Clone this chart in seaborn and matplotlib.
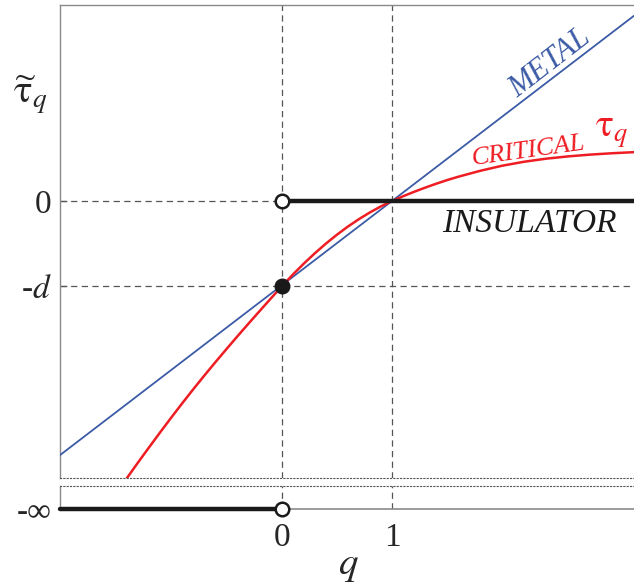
import matplotlib
matplotlib.use("Agg")
import matplotlib.pyplot as plt
import seaborn as sns

# critical curve tau_q read as (q, tau) pairs
crit_q = [-1.45, -1.3, -1.2, -1.1, -1.0, -0.9, -0.8, -0.7, -0.6, -0.5, -0.4, -0.3,
          -0.2, -0.1, 0.0, 0.1, 0.2, 0.3, 0.4, 0.5, 0.6, 0.7, 0.8, 0.9, 1.0,
          1.1, 1.2, 1.3, 1.4, 1.5, 1.6, 1.8, 2.0, 2.2, 2.4, 2.6, 2.8, 3.0, 3.2]
crit_tau = [-3.33, -3.058, -2.881, -2.706, -2.534, -2.366, -2.202, -2.042, -1.886,
            -1.733, -1.582, -1.434, -1.288, -1.143, -1.0, -0.862, -0.733, -0.612,
            -0.499, -0.395, -0.299, -0.212, -0.133, -0.062, 0.0,
            0.056, 0.108, 0.157, 0.203, 0.246, 0.285, 0.355, 0.415, 0.462, 0.498,
            0.525, 0.546, 0.562, 0.575]

# metallic phase: straight line through (0,-d) and (1,0)
metal_q = [-2.02, 3.2]
metal_tau = [-2.99, 2.18]

# insulating phase: tau = 0 for q > 0, -inf for q < 0
ins_q = [0.0, 3.2]
ins_tau = [0.0, 0.0]
ins_inf_q = [-2.02, 0.0]

x_ticks = [0, 1]
x_labels = ["0", "1"]
d = 1.0
y_ticks = [0, -d]
y_labels = ["0", r"-$d$"]

RED = "#ee1d23"
BLUE = "#3c5ba6"
GRAY = "#8a8a8a"

sns.set_style("white")
plt.rcParams["font.family"] = ["Liberation Serif", "DejaVu Serif"]
plt.rcParams["mathtext.fontset"] = "stix"

fig = plt.figure(figsize=(6.34, 5.85), dpi=100)
ax = fig.add_axes([0.0946, 0.1829, 0.9054, 0.8085])
axb = fig.add_axes([0.0946, 0.1299, 0.9054, 0.0393])

XL = (-2.02, 3.2)
ax.set_xlim(*XL)
ax.set_ylim(-3.259, 2.306)
axb.set_xlim(*XL)
axb.set_ylim(0, 1)

# reference grid lines
dash = (0, (5, 3.5))
for a in (ax, axb):
    for xv in x_ticks:
        a.axvline(xv, color="#555555", lw=0.9, ls=dash, zorder=1)
for yv in y_ticks:
    ax.axhline(yv, color="#555555", lw=0.9, ls=dash, zorder=1)

sns.lineplot(x=metal_q, y=metal_tau, ax=ax, color=BLUE, lw=1.3,
             sort=False, estimator=None, zorder=3)
sns.lineplot(x=crit_q, y=crit_tau, ax=ax, color=RED, lw=1.8,
             sort=False, estimator=None, zorder=4)
sns.lineplot(x=ins_q, y=ins_tau, ax=ax, color="#1a1a1a", lw=3.2,
             sort=False, estimator=None, zorder=5)
sns.lineplot(x=ins_inf_q, y=[0, 0], ax=axb, color="#1a1a1a", lw=3.2,
             sort=False, estimator=None, zorder=5, clip_on=False)

sns.scatterplot(x=[0], y=[0], ax=ax, s=95, color="white", edgecolor="#1a1a1a",
                linewidth=1.8, zorder=6)
sns.scatterplot(x=[0], y=[-d], ax=ax, s=110, color="#1a1a1a", edgecolor="#1a1a1a",
                linewidth=1.0, zorder=6)
sns.scatterplot(x=[0], y=[0], ax=axb, s=95, color="white", edgecolor="#1a1a1a",
                linewidth=1.8, zorder=6, clip_on=False)

# spines
for a in (ax, axb):
    a.spines["right"].set_visible(False)
    a.spines["left"].set_color(GRAY)
    a.spines["left"].set_linewidth(1.0)
ax.spines["top"].set_color(GRAY)
ax.spines["top"].set_linewidth(1.0)
ax.spines["bottom"].set_color("#555555")
ax.spines["bottom"].set_linestyle((0, (1, 2)))
ax.spines["bottom"].set_linewidth(0.8)
axb.spines["top"].set_color("#555555")
axb.spines["top"].set_linestyle((0, (1, 2)))
axb.spines["top"].set_linewidth(0.8)
axb.spines["bottom"].set_color(GRAY)
axb.spines["bottom"].set_linewidth(1.2)

# ticks
ax.set_xticks([])
ax.set_yticks(y_ticks)
ax.set_yticklabels(y_labels)
ax.tick_params(axis="y", direction="in", length=5, color=GRAY, width=1.0,
               labelsize=24, pad=6, left=True)
axb.set_yticks([0])
axb.set_yticklabels(["-∞"])
axb.tick_params(axis="y", length=0, labelsize=24, pad=6, left=True)
axb.set_xticks(x_ticks)
axb.set_xticklabels(x_labels)
axb.tick_params(axis="x", length=0, labelsize=24, pad=10, bottom=True)
ax.set_xlabel("")
ax.set_ylabel("")
axb.set_xlabel("")
axb.set_ylabel("")

# axis titles
fig.text(348 / 634, 1 - 565 / 585, r"$q$", fontsize=28, ha="center", va="center")
fig.text(30 / 634, 1 - 95 / 585, r"$\widetilde{\mathrm{\tau}}_q$", fontsize=28,
         ha="center", va="center")

# phase annotations
ax.text(2.44, 1.62, "METAL", color=BLUE, fontsize=22, style="italic",
        rotation=37.7, rotation_mode="anchor", ha="center", va="center")
ax.text(2.236, 0.59, "CRITICAL", color=RED, fontsize=19, style="italic",
        rotation=8, rotation_mode="anchor", ha="center", va="center")
ax.text(3.0, 0.80, r"$\mathrm{\tau}_q$", color=RED, fontsize=27,
        ha="center", va="center")
ax.text(2.245, -0.265, "INSULATOR", color="#1a1a1a", fontsize=24, style="italic",
        ha="center", va="center")

fig.savefig("out.png", dpi=100)
